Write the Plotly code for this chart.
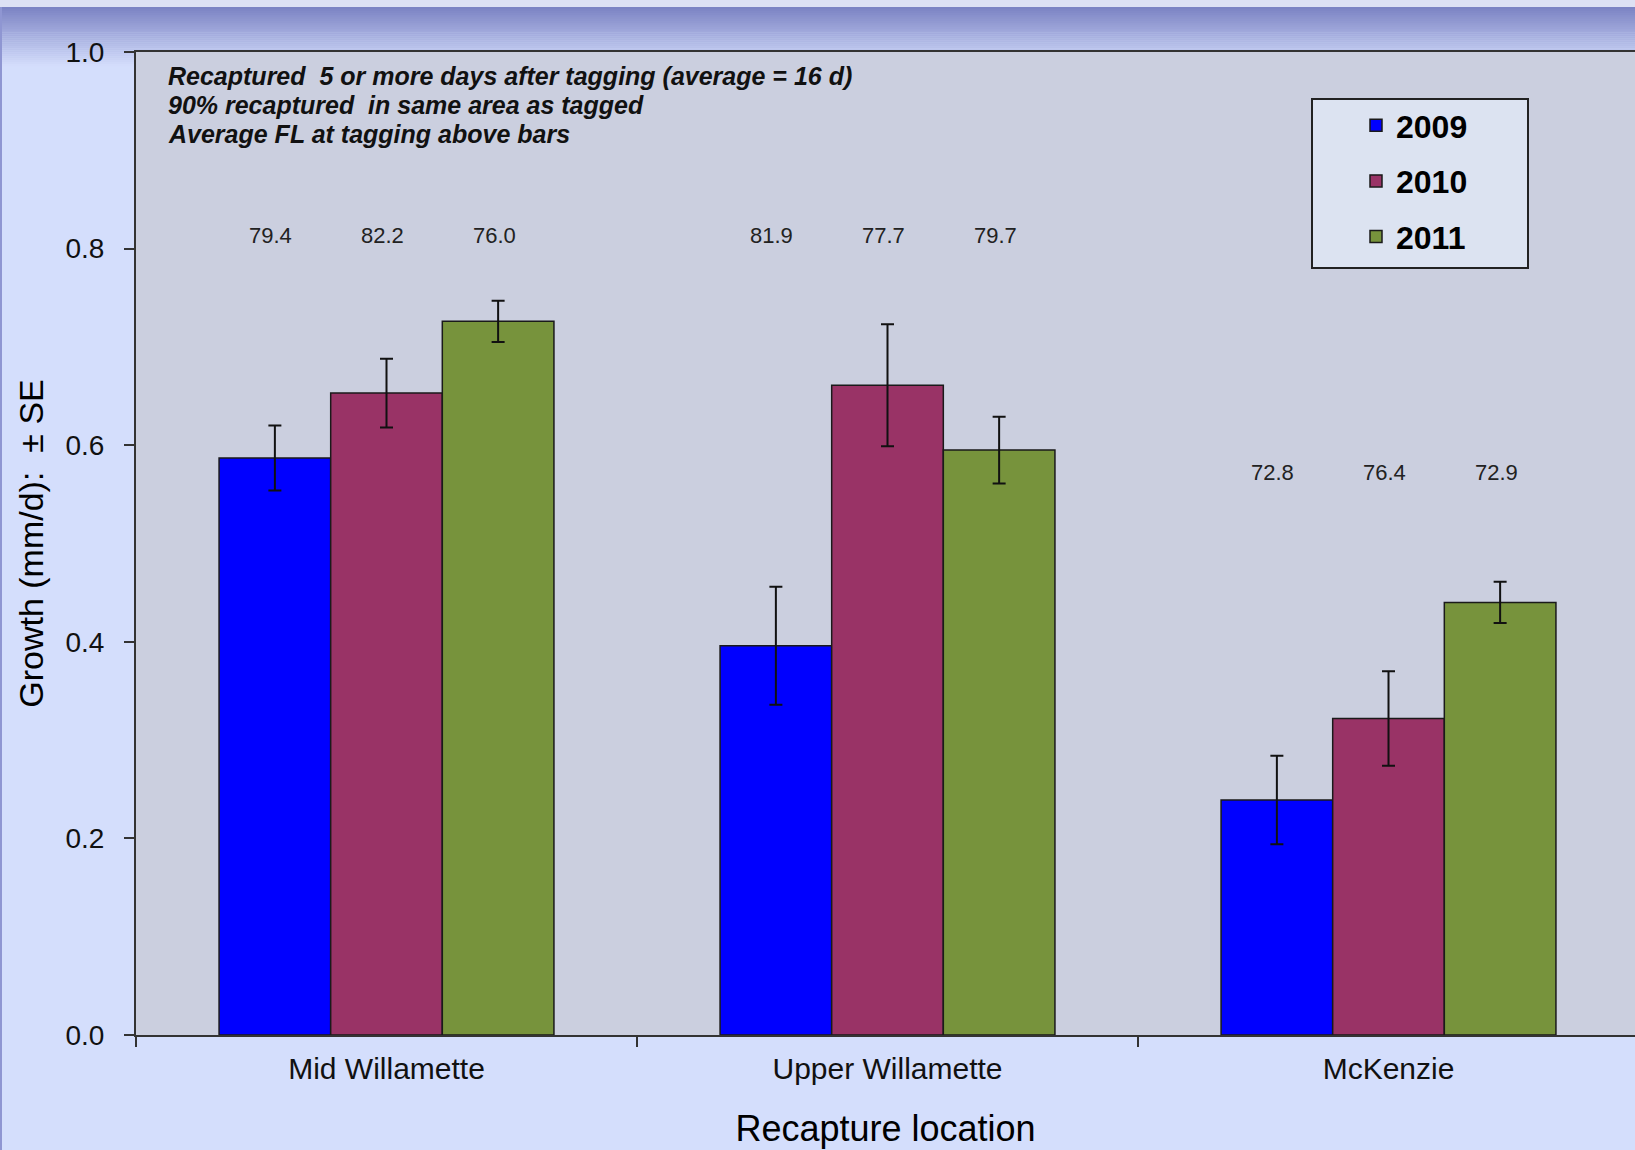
import plotly.graph_objects as go

# ---- data ----
locations = ["Mid Willamette", "Upper Willamette", "McKenzie"]
years = ["2009", "2010", "2011"]
growth_2009 = [0.587, 0.396, 0.239]
growth_2010 = [0.653, 0.661, 0.322]
growth_2011 = [0.726, 0.595, 0.440]
se_2009 = [0.033, 0.060, 0.045]
se_2010 = [0.035, 0.062, 0.048]
se_2011 = [0.021, 0.034, 0.021]
fl_2009 = ["79.4", "81.9", "72.8"]
fl_2010 = ["82.2", "77.7", "76.4"]
fl_2011 = ["76.0", "79.7", "72.9"]
fl_label_y = [0.813, 0.813, 0.572]
y_ticks = [0.0, 0.2, 0.4, 0.6, 0.8, 1.0]
notes = ["Recaptured  5 or more days after tagging (average = 16 d)",
         "90% recaptured  in same area as tagged",
         "Average FL at tagging above bars"]

colors = ["#0000FF", "#993366", "#77933C"]
W, H = 1635, 1150
ML, MR, MT, MB = 136, 0, 52, 115
PW, PH = W - ML - MR, H - MT - MB
FONT = "Liberation Sans, Arial, sans-serif"

fig = go.Figure()
for yr, vals, se, col in zip(years, [growth_2009, growth_2010, growth_2011],
                             [se_2009, se_2010, se_2011], colors):
    fig.add_trace(go.Bar(
        x=locations, y=vals, name=yr, legendgroup=yr,
        marker=dict(color=col, line=dict(color="#1a1a1a", width=1.5)),
        error_y=dict(type="data", array=se, visible=True, color="#111111",
                     thickness=2, width=6.5),
    ))

# group geometry (bar width as fraction of category)
bar_w = 0.2228
offsets = [-bar_w, 0.0, bar_w]

annotations = []
for k, labels in enumerate([fl_2009, fl_2010, fl_2011]):
    for i, lab in enumerate(labels):
        annotations.append(dict(
            x=i + offsets[k] - 0.008, y=fl_label_y[i], xref="x", yref="y",
            text=lab, showarrow=False,
            font=dict(family=FONT, size=22, color="#222222")))

def px_x(p):
    return (p - ML) / PW

def px_y(p):
    return (H - MB - p) / PH

for j, n_txt in enumerate(notes):
    annotations.append(dict(
        x=px_x(166), y=px_y(76 + 29 * j), xref="paper", yref="paper",
        xanchor="left", yanchor="middle", align="left", showarrow=False,
        text="<b><i>%s</i></b>" % n_txt,
        font=dict(family=FONT, size=25, color="#111111")))

shapes = []
# top light strip
shapes.append(dict(type="rect", xref="paper", yref="paper",
                   x0=px_x(0), x1=px_x(W), y0=px_y(7), y1=px_y(0),
                   fillcolor="#dde1f4", line=dict(width=0), layer="below"))
# gradient band
c0 = (123, 130, 195)
c1 = (212, 222, 252)
top, bot = 7, 66
n = 30
for s in range(n):
    a = top + (bot - top) * s / n
    b = top + (bot - top) * (s + 1) / n
    t = (s + 0.5) / n
    c = "rgb(%d,%d,%d)" % tuple(round(c0[j] + (c1[j] - c0[j]) * t) for j in range(3))
    if b <= MT:
        shapes.append(dict(type="rect", xref="paper", yref="paper",
                           x0=px_x(0), x1=px_x(W), y0=px_y(b + 0.3), y1=px_y(a),
                           fillcolor=c, line=dict(width=0), layer="below"))
    else:
        a2 = max(a, MT)
        if a < MT:
            shapes.append(dict(type="rect", xref="paper", yref="paper",
                               x0=px_x(0), x1=px_x(W), y0=px_y(MT), y1=px_y(a),
                               fillcolor=c, line=dict(width=0), layer="below"))
        shapes.append(dict(type="rect", xref="paper", yref="paper",
                           x0=px_x(0), x1=px_x(ML - 1), y0=px_y(b + 0.3), y1=px_y(a2),
                           fillcolor=c, line=dict(width=0), layer="below"))
# left edge
shapes.append(dict(type="rect", xref="paper", yref="paper",
                   x0=px_x(0), x1=px_x(2), y0=px_y(H), y1=px_y(7),
                   fillcolor="#8f96d2", line=dict(width=0), layer="below"))
# legend box
shapes.append(dict(type="rect", xref="paper", yref="paper",
                   x0=px_x(1312), x1=px_x(1528), y0=px_y(268), y1=px_y(99),
                   fillcolor="#dce3f1", line=dict(color="#222222", width=2),
                   layer="below"))

fig.update_layout(
    width=W, height=H,
    margin=dict(l=ML, r=MR, t=MT, b=MB, pad=0, autoexpand=False),
    paper_bgcolor="#d4defc",
    plot_bgcolor="#cbcfdf",
    barmode="group", bargap=1 - 3 * bar_w, bargroupgap=0,
    font=dict(family=FONT, color="#111111"),
    showlegend=True,
    legend=dict(xref="paper", yref="paper",
                x=px_x(1356), y=px_y(98), xanchor="left", yanchor="top",
                bgcolor="rgba(0,0,0,0)", borderwidth=0,
                font=dict(family=FONT, size=32, color="#000000", weight="bold"),
                tracegroupgap=11),
    annotations=annotations,
    shapes=shapes,
    xaxis=dict(
        type="category", range=[-0.5, 2.492],
        showline=True, linecolor="#333333", linewidth=2, mirror=True,
        ticks="outside", tickson="boundaries", ticklen=10, tickwidth=2,
        tickcolor="#333333",
        tickfont=dict(family=FONT, size=30, color="#111111"),
        ticklabelstandoff=6,
        showgrid=False, zeroline=False,
        title=dict(text="Recapture location", standoff=32,
                   font=dict(family=FONT, size=36, color="#000000")),
    ),
    yaxis=dict(
        range=[0, 1.0], tickvals=y_ticks, tickformat=".1f",
        showline=True, linecolor="#333333", linewidth=2,
        ticks="outside", ticklen=10, tickwidth=2, tickcolor="#333333",
        tickfont=dict(family=FONT, size=28, color="#111111"),
        ticklabelstandoff=14,
        showgrid=False, zeroline=False,
        title=dict(text="Growth (mm/d):  ± SE", standoff=12,
                   font=dict(family=FONT, size=34, color="#000000")),
    ),
)

fig.write_html("out.html",
               config={"displayModeBar": False},
               post_script="document.body.style.margin='0';document.body.style.overflow='hidden';")
